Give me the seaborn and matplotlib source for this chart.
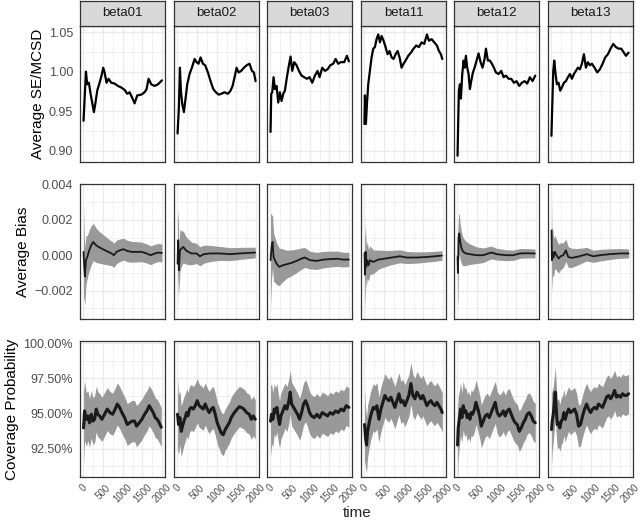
import numpy as np
import pandas as pd
import matplotlib
matplotlib.use("Agg")
import matplotlib.pyplot as plt
import seaborn as sns
from matplotlib.ticker import FixedLocator, FuncFormatter

sns.set_theme(style="white")
plt.rcParams['font.family'] = ['Liberation Sans', 'DejaVu Sans']

# ---------------- data ----------------
params = ["beta01", "beta02", "beta03", "beta11", "beta12", "beta13"]
row_titles = ["Average SE/MCSD", "Average Bias", "Coverage Probability"]
x_ticks = [0, 500, 1000, 1500, 2000]

# Row 1: Average SE/MCSD
se_b01_t = [8, 68, 101, 143, 186, 219, 270, 304, 354, 414, 473, 506, 540, 591, 641, 709, 793, 878, 962, 1047, 1114, 1173, 1232, 1300, 1367, 1469, 1553, 1604, 1654, 1722, 1806, 1891, 1992]
se_b01_v = [0.938, 1.000, 0.984, 0.986, 0.972, 0.963, 0.949, 0.959, 0.976, 0.986, 0.997, 1.005, 0.999, 0.986, 0.991, 0.986, 0.985, 0.982, 0.980, 0.977, 0.972, 0.974, 0.968, 0.960, 0.970, 0.971, 0.974, 0.978, 0.991, 0.984, 0.982, 0.984, 0.989]
se_b02_t = [8, 42, 68, 93, 127, 169, 203, 253, 312, 371, 439, 490, 540, 591, 650, 709, 776, 844, 912, 979, 1047, 1114, 1198, 1283, 1350, 1401, 1452, 1502, 1553, 1620, 1688, 1756, 1831, 1891, 1941, 1983]
se_b02_v = [0.922, 0.955, 1.005, 0.976, 0.959, 0.949, 0.963, 0.984, 0.997, 1.005, 1.016, 1.012, 1.010, 1.018, 1.010, 1.008, 0.999, 0.988, 0.978, 0.974, 0.971, 0.972, 0.974, 0.972, 0.976, 0.982, 0.993, 1.005, 0.999, 1.001, 1.005, 1.008, 1.010, 1.001, 0.999, 0.988]
se_b03_t = [8, 25, 51, 84, 118, 160, 203, 245, 287, 329, 371, 422, 473, 515, 557, 608, 667, 726, 793, 861, 928, 996, 1063, 1131, 1198, 1249, 1317, 1384, 1452, 1519, 1595, 1654, 1722, 1789, 1874, 1941, 1992]
se_b03_v = [0.924, 0.972, 0.974, 0.993, 0.978, 0.982, 0.961, 0.974, 0.963, 0.972, 0.976, 0.993, 1.008, 1.019, 1.001, 1.012, 1.008, 1.001, 0.995, 0.993, 0.991, 0.993, 0.986, 0.995, 1.001, 0.993, 1.005, 1.001, 1.003, 1.008, 1.010, 1.016, 1.010, 1.012, 1.012, 1.020, 1.013]
se_b11_t = [5, 17, 42, 68, 101, 143, 186, 228, 270, 312, 354, 397, 439, 490, 540, 591, 641, 692, 743, 793, 844, 895, 945, 996, 1047, 1114, 1182, 1249, 1317, 1384, 1452, 1519, 1587, 1637, 1705, 1772, 1840, 1891, 1941, 1975]
se_b11_v = [0.934, 0.970, 0.934, 0.959, 0.984, 1.001, 1.018, 1.029, 1.031, 1.041, 1.047, 1.037, 1.045, 1.039, 1.031, 1.022, 1.026, 1.018, 1.016, 1.022, 1.026, 1.018, 1.005, 1.010, 1.014, 1.020, 1.024, 1.029, 1.033, 1.031, 1.037, 1.035, 1.047, 1.039, 1.041, 1.037, 1.033, 1.026, 1.022, 1.016]
se_b12_t = [8, 25, 42, 68, 93, 127, 160, 186, 219, 253, 287, 321, 354, 397, 439, 490, 540, 591, 641, 692, 726, 776, 827, 878, 928, 979, 1047, 1114, 1173, 1232, 1300, 1367, 1435, 1502, 1569, 1637, 1705, 1772, 1840, 1907, 1975]
se_b12_v = [0.894, 0.938, 0.976, 0.984, 0.966, 0.997, 1.014, 1.005, 1.020, 1.005, 0.997, 0.978, 0.988, 0.999, 1.005, 1.014, 1.023, 1.012, 1.005, 1.016, 1.029, 1.014, 1.014, 1.010, 1.005, 0.999, 0.997, 1.001, 0.993, 0.995, 0.991, 0.991, 0.986, 0.988, 0.982, 0.986, 0.988, 0.985, 0.993, 0.988, 0.995]
se_b13_t = [5, 25, 51, 76, 110, 143, 186, 228, 270, 321, 371, 422, 473, 523, 574, 625, 675, 726, 776, 827, 878, 928, 979, 1030, 1097, 1165, 1232, 1300, 1367, 1435, 1502, 1570, 1637, 1705, 1772, 1840, 1891, 1958]
se_b13_v = [0.919, 0.955, 1.001, 1.014, 0.997, 0.984, 0.986, 0.976, 0.980, 0.986, 0.988, 0.993, 0.997, 0.991, 0.997, 1.001, 1.005, 1.003, 1.010, 1.022, 1.005, 1.012, 1.008, 1.010, 1.005, 0.999, 1.003, 1.010, 1.018, 1.022, 1.029, 1.035, 1.031, 1.029, 1.029, 1.024, 1.020, 1.024]

# Row 2: Average Bias (line) + half-width of the grey band
bias_b01_t = [8, 25, 42, 68, 101, 152, 203, 253, 321, 388, 464, 549, 633, 717, 776, 844, 928, 1030, 1097, 1224, 1350, 1477, 1604, 1705, 1815, 1899, 1992]
bias_b01_v = [0.00019, -0.00066, -0.0012, -0.00028, -0.0001, 0.00028, 0.00057, 0.00075, 0.00057, 0.00047, 0.00038, 0.00028, 0.00019, 0.0001, 0.0, 0.00019, 0.00028, 0.00034, 0.00025, 0.00019, 0.00019, 0.00019, 0.0001, 0.0, 0.0001, 0.00015, 0.00013]
bias_b02_t = [8, 25, 42, 68, 110, 152, 219, 279, 363, 490, 574, 675, 827, 1080, 1334, 1587, 1798, 1975]
bias_b02_v = [-0.00047, 0.00085, -0.00085, 0.00028, 0.00038, 0.00047, 0.00028, 0.00019, 0.0001, 0.0001, -0.00006, 0.00006, 0.0001, 0.0001, 0.00006, 0.0001, 0.00013, 0.00015]
bias_b03_t = [8, 34, 59, 84, 118, 160, 228, 312, 414, 540, 667, 793, 878, 1004, 1173, 1342, 1500, 1700, 1850, 1990]
bias_b03_v = [-0.00028, 0.00047, 0.00075, -0.0001, -0.00028, -0.00047, -0.00066, -0.00057, -0.00051, -0.00043, -0.00032, -0.00019, -0.00013, -0.00028, -0.00032, -0.00025, -0.00022, -0.0002, -0.00025, -0.00024]
bias_b11_t = [8, 17, 34, 51, 76, 110, 143, 228, 354, 523, 692, 903, 1072, 1325, 1578, 1789, 1967]
bias_b11_v = [0.0001, -0.0011, 0.00019, -0.00066, -0.00028, -0.00057, -0.00028, -0.00038, -0.00025, -0.00019, -0.00013, -0.00006, -0.00013, -0.00013, -0.0001, -0.00006, -0.00002]
bias_b12_t = [8, 17, 34, 51, 76, 110, 152, 219, 321, 490, 658, 785, 869, 996, 1249, 1418, 1587, 1756, 1967]
bias_b12_v = [-0.0001, -0.001, 0.001, 0.00123, 0.00075, 0.00038, 0.00019, 0.0001, 0.00006, 0.0, 0.0, 0.0001, 0.00015, 0.00006, 0.0, 0.0, 0.0001, 0.00011, 0.0001]
bias_b13_t = [8, 17, 34, 59, 93, 135, 186, 236, 304, 371, 430, 515, 641, 810, 895, 1063, 1232, 1485, 1739, 1958]
bias_b13_v = [0.0014, -0.00028, 0.00019, -0.00013, 0.00019, 0.0, -0.00019, -0.00006, 0.0, 0.00028, -0.0001, -0.00015, -0.0001, 0.0, 0.00006, -0.00006, 0.0, 0.00006, 0.0001, 0.0001]

band_t = [1, 10, 25, 50, 100, 200, 400, 700, 1000, 1500, 2000]
bias_hw_b01 = [0.0028, 0.0025, 0.0019, 0.0015, 0.0012, 0.0011, 0.0009, 0.0007, 0.00062, 0.00055, 0.0005]
bias_hw_b02 = [0.0026, 0.0024, 0.0017, 0.0013, 0.0010, 0.0008, 0.0006, 0.0005, 0.0004, 0.00035, 0.0003]
bias_hw_b03 = [0.0029, 0.0026, 0.0020, 0.0015, 0.0013, 0.0011, 0.0008, 0.00065, 0.0005, 0.00045, 0.0004]
bias_hw_b11 = [0.0025, 0.0022, 0.0016, 0.0012, 0.0009, 0.0007, 0.0005, 0.0004, 0.00035, 0.0003, 0.00027]
bias_hw_b12 = [0.0028, 0.0022, 0.0015, 0.0011, 0.0009, 0.0007, 0.0005, 0.0004, 0.00033, 0.00028, 0.00025]
bias_hw_b13 = [0.0022, 0.0020, 0.0015, 0.0011, 0.0009, 0.0008, 0.0006, 0.00045, 0.00035, 0.0003, 0.00025]

# Row 3: Coverage Probability (%) + band half-width
cov_b01_t = [8, 34, 76, 118, 160, 203, 245, 287, 329, 371, 414, 473, 540, 608, 675, 743, 810, 861, 920, 979, 1047, 1114, 1173, 1232, 1300, 1350, 1418, 1485, 1553, 1620, 1671, 1722, 1772, 1823, 1874, 1924, 1975]
cov_b01_v = [93.98, 95.19, 94.59, 94.83, 94.34, 94.95, 94.46, 94.59, 95.32, 94.95, 94.83, 94.59, 94.95, 95.32, 95.07, 94.95, 95.32, 95.68, 95.44, 95.07, 94.71, 94.22, 94.34, 94.46, 94.46, 94.10, 94.34, 94.59, 94.95, 95.24, 95.56, 95.32, 95.07, 94.71, 94.59, 94.34, 94.03]
cov_b02_t = [8, 34, 68, 101, 135, 169, 203, 236, 270, 312, 354, 405, 456, 506, 557, 608, 658, 709, 760, 810, 861, 912, 962, 1013, 1063, 1114, 1165, 1215, 1266, 1317, 1367, 1418, 1469, 1519, 1570, 1620, 1688, 1756, 1823, 1874, 1924, 1975]
cov_b02_v = [94.95, 94.22, 94.71, 93.73, 94.10, 94.46, 94.71, 95.07, 94.83, 95.32, 95.44, 95.32, 95.56, 95.92, 95.56, 95.44, 95.32, 95.68, 95.32, 95.07, 95.32, 95.44, 94.95, 94.34, 93.98, 93.61, 93.49, 93.86, 94.10, 94.34, 94.71, 94.95, 95.15, 95.32, 95.49, 95.44, 95.32, 95.07, 94.95, 94.59, 94.83, 94.59]
cov_b03_t = [8, 34, 68, 101, 135, 169, 203, 236, 270, 321, 371, 422, 473, 506, 540, 591, 641, 692, 743, 793, 844, 895, 945, 996, 1047, 1114, 1182, 1249, 1317, 1384, 1452, 1519, 1587, 1654, 1722, 1789, 1857, 1924, 1992]
cov_b03_v = [94.46, 94.95, 94.59, 95.32, 95.07, 95.44, 94.71, 94.22, 94.83, 95.19, 95.56, 95.32, 95.92, 96.53, 95.68, 95.44, 95.19, 94.95, 94.59, 95.07, 95.68, 95.92, 95.56, 95.07, 94.83, 94.71, 94.95, 94.71, 95.07, 94.95, 94.83, 95.07, 94.95, 95.19, 95.07, 95.32, 95.19, 95.56, 95.44]
cov_b11_t = [8, 34, 59, 84, 118, 152, 186, 228, 270, 321, 371, 422, 473, 523, 574, 625, 675, 726, 776, 827, 878, 928, 979, 1030, 1080, 1131, 1182, 1232, 1283, 1334, 1384, 1435, 1485, 1536, 1587, 1637, 1688, 1739, 1789, 1840, 1891, 1941, 1975]
cov_b11_v = [94.22, 93.25, 92.76, 93.73, 94.22, 94.71, 95.07, 95.44, 95.32, 95.56, 94.59, 95.32, 95.80, 96.29, 96.05, 95.92, 96.17, 95.80, 95.44, 95.92, 96.41, 95.80, 95.92, 95.56, 95.92, 96.29, 97.14, 96.29, 96.05, 96.53, 96.29, 96.05, 96.29, 95.92, 95.56, 95.80, 95.92, 95.68, 95.56, 95.80, 95.56, 95.32, 95.07]
cov_b12_t = [8, 25, 51, 84, 118, 152, 186, 219, 253, 287, 321, 354, 388, 439, 473, 523, 574, 608, 658, 709, 760, 810, 861, 912, 962, 1013, 1063, 1114, 1165, 1215, 1266, 1317, 1367, 1418, 1469, 1519, 1570, 1620, 1671, 1722, 1772, 1823, 1874, 1924, 1975]
cov_b12_v = [92.76, 93.98, 94.59, 95.32, 94.71, 95.56, 95.07, 95.19, 94.71, 94.95, 94.59, 95.07, 94.95, 95.32, 95.80, 95.32, 94.71, 94.10, 94.46, 94.83, 94.95, 94.71, 95.07, 95.44, 95.80, 95.07, 94.83, 94.95, 95.19, 94.83, 95.19, 95.32, 94.95, 94.59, 94.34, 94.22, 93.73, 93.98, 94.34, 94.59, 94.95, 95.07, 94.83, 94.46, 94.34]
cov_b13_t = [8, 25, 51, 76, 101, 127, 152, 186, 219, 253, 287, 321, 354, 388, 439, 490, 540, 591, 641, 692, 743, 793, 844, 895, 945, 996, 1047, 1097, 1148, 1198, 1249, 1300, 1350, 1401, 1452, 1502, 1553, 1604, 1654, 1705, 1756, 1806, 1857, 1907, 1958]
cov_b13_v = [93.86, 94.46, 94.95, 95.68, 96.53, 95.32, 94.22, 94.34, 93.98, 94.46, 94.59, 95.07, 94.59, 94.95, 95.32, 95.07, 95.19, 95.32, 94.95, 94.10, 94.22, 94.83, 95.32, 95.68, 95.32, 95.07, 95.32, 95.44, 95.32, 95.68, 95.56, 95.44, 95.80, 96.17, 96.29, 96.05, 96.29, 96.65, 96.17, 96.29, 96.17, 96.41, 96.29, 96.29, 96.41]
cov_hw = [2.8, 2.5, 2.2, 2.0, 1.8, 1.7, 1.6, 1.5, 1.5, 1.45, 1.4]

se_series = [(se_b01_t, se_b01_v), (se_b02_t, se_b02_v), (se_b03_t, se_b03_v),
             (se_b11_t, se_b11_v), (se_b12_t, se_b12_v), (se_b13_t, se_b13_v)]
bias_series = [(bias_b01_t, bias_b01_v, bias_hw_b01), (bias_b02_t, bias_b02_v, bias_hw_b02),
               (bias_b03_t, bias_b03_v, bias_hw_b03), (bias_b11_t, bias_b11_v, bias_hw_b11),
               (bias_b12_t, bias_b12_v, bias_hw_b12), (bias_b13_t, bias_b13_v, bias_hw_b13)]
cov_series = [(cov_b01_t, cov_b01_v, cov_hw), (cov_b02_t, cov_b02_v, cov_hw),
              (cov_b03_t, cov_b03_v, cov_hw), (cov_b11_t, cov_b11_v, cov_hw),
              (cov_b12_t, cov_b12_v, cov_hw), (cov_b13_t, cov_b13_v, cov_hw)]

# ---------------- layout ----------------
W, H = 640, 522
fig = plt.figure(figsize=(6.4, 5.22), dpi=100)
fig.patch.set_facecolor("white")
col_left = [80, 174, 267, 361, 454, 548]
pw = 85
row_span = [(26, 162), (184, 319), (341, 477)]
xlim = (-82, 2070)

row_cfg = [
    dict(ylim=(0.886, 1.0576), major=[0.90, 0.95, 1.00, 1.05], minor=[0.925, 0.975, 1.025],
         fmt=lambda v, p: f"{v:.2f}"),
    dict(ylim=(-0.0036, 0.00402), major=[-0.002, 0.0, 0.002, 0.004], minor=[-0.003, -0.001, 0.001, 0.003],
         fmt=lambda v, p: f"{v:.3f}".replace("-", "\u2212") if abs(v) > 1e-12 else "0.000"),
    dict(ylim=(90.48, 100.17), major=[92.5, 95.0, 97.5, 100.0], minor=[91.25, 93.75, 96.25, 98.75],
         fmt=lambda v, p: f"{v:.2f}%"),
]

GRID = "#EBEBEB"
BORDER = "#333333"
TICKLAB = "#4D4D4D"
BAND = "#999999"

for r in range(3):
    y0, y1 = row_span[r]
    cfg = row_cfg[r]
    for c in range(6):
        ax = fig.add_axes([col_left[c] / W, 1 - y1 / H, pw / W, (y1 - y0) / H])
        ax.set_facecolor("white")
        if r == 0:
            t, v = se_series[c]
            df = pd.DataFrame({"time": t, "value": v})
            sns.lineplot(data=df, x="time", y="value", ax=ax, color="black",
                         linewidth=1.6, estimator=None, sort=False, zorder=3)
        else:
            t, v, hw = (bias_series if r == 1 else cov_series)[c]
            t = np.asarray(t, float)
            v = np.asarray(v, float)
            h = np.interp(t, band_t, hw)
            ax.fill_between(t, v - h, v + h, color=BAND, linewidth=0, zorder=2)
            df = pd.DataFrame({"time": t, "value": v})
            sns.lineplot(data=df, x="time", y="value", ax=ax, color="#1A1A1A",
                         linewidth=1.3 if r == 1 else 2.2, estimator=None, sort=False, zorder=3)
        ax.set_xlim(*xlim)
        ax.set_ylim(*cfg["ylim"])
        ax.xaxis.set_major_locator(FixedLocator(x_ticks))
        ax.xaxis.set_minor_locator(FixedLocator([250, 750, 1250, 1750]))
        ax.yaxis.set_major_locator(FixedLocator(cfg["major"]))
        ax.yaxis.set_minor_locator(FixedLocator(cfg["minor"]))
        ax.grid(which="major", color=GRID, linewidth=1.0, zorder=0)
        ax.grid(which="minor", color=GRID, linewidth=0.5, zorder=0)
        ax.set_axisbelow(True)
        for s in ax.spines.values():
            s.set_color(BORDER)
            s.set_linewidth(0.9)
        ax.tick_params(which="minor", length=0)
        ax.tick_params(which="major", length=3, width=0.8, color=BORDER,
                       labelcolor=TICKLAB, labelsize=9, pad=2)
        ax.set_xlabel("")
        ax.set_ylabel("")
        if c == 0:
            ax.yaxis.set_major_formatter(FuncFormatter(cfg["fmt"]))
            ax.set_ylabel(row_titles[r], fontsize=11, color="black", labelpad=3)
        else:
            ax.tick_params(axis="y", left=False, labelleft=False)
        if r == 2:
            ax.set_xticklabels([str(x) for x in x_ticks], rotation=45, ha="center",
                               va="top", fontsize=7, color=TICKLAB)
            ax.tick_params(axis="x", pad=1)
        else:
            ax.tick_params(axis="x", bottom=False, labelbottom=False)

        if r == 0:
            sa = fig.add_axes([col_left[c] / W, 1 - 26 / H, pw / W, 25 / H])
            sa.set_facecolor("#D9D9D9")
            sa.set_xticks([])
            sa.set_yticks([])
            for s in sa.spines.values():
                s.set_color(BORDER)
                s.set_linewidth(0.9)
            sa.text(0.5, 0.5, params[c], ha="center", va="center", fontsize=9.5,
                    color="#1A1A1A", transform=sa.transAxes)

fig.text(357 / W, 1 - 513 / H, "time", ha="center", va="center", fontsize=11)

fig.savefig("out.png", dpi=100)
